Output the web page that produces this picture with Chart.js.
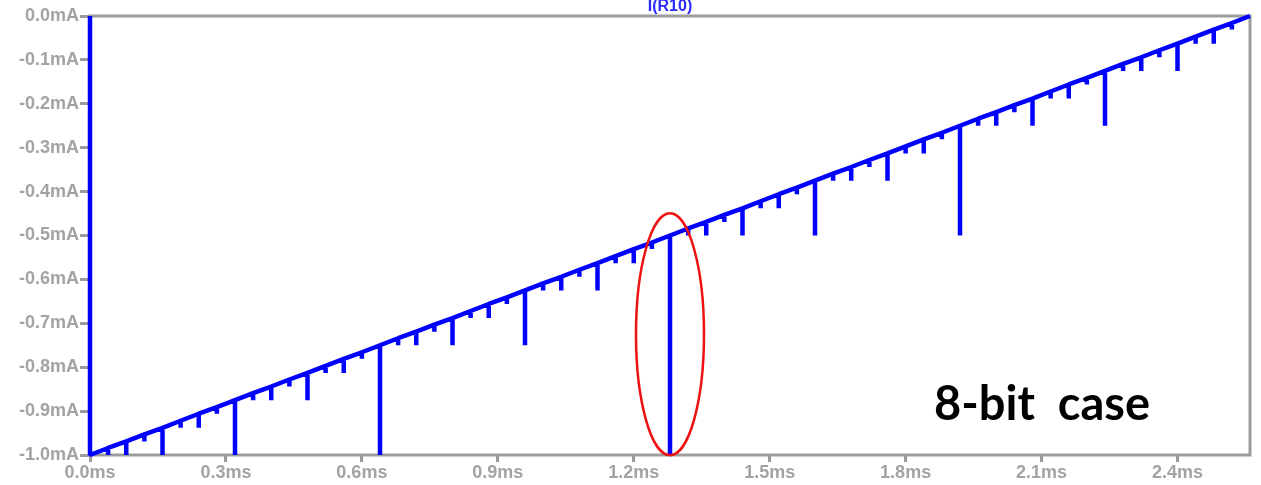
<!DOCTYPE html>
<html>
<head>
<meta charset="utf-8">
<script src="https://cdn.jsdelivr.net/npm/chart.js@4"></script>
<style>
  html, body { margin: 0; padding: 0; background: #fff; }
  #wrap { width: 1261px; height: 485px; }
</style>
</head>
<body>
<div id="wrap"><canvas id="cur" width="1261" height="485"></canvas></div>
<script>
// spike times (ms), ramp level at each spike and spike bottom (mA)
const glitchTimes = [0.04, 0.08, 0.12, 0.16, 0.20, 0.24, 0.28, 0.32, 0.36, 0.40, 0.44, 0.48, 0.52, 0.56, 0.60, 0.64,
  0.68, 0.72, 0.76, 0.80, 0.84, 0.88, 0.92, 0.96, 1.00, 1.04, 1.08, 1.12, 1.16, 1.20, 1.24, 1.28,
  1.32, 1.36, 1.40, 1.44, 1.48, 1.52, 1.56, 1.60, 1.64, 1.68, 1.72, 1.76, 1.80, 1.84, 1.88, 1.92,
  1.96, 2.00, 2.04, 2.08, 2.12, 2.16, 2.20, 2.24, 2.28, 2.32, 2.36, 2.40, 2.44, 2.48, 2.52];
const rampLevel = [-0.984, -0.969, -0.953, -0.938, -0.922, -0.906, -0.891, -0.875, -0.859, -0.844, -0.828, -0.813, -0.797, -0.781, -0.766, -0.750,
  -0.734, -0.719, -0.703, -0.688, -0.672, -0.656, -0.641, -0.625, -0.609, -0.594, -0.578, -0.563, -0.547, -0.531, -0.516, -0.500,
  -0.484, -0.469, -0.453, -0.438, -0.422, -0.406, -0.391, -0.375, -0.359, -0.344, -0.328, -0.313, -0.297, -0.281, -0.266, -0.250,
  -0.234, -0.219, -0.203, -0.188, -0.172, -0.156, -0.141, -0.125, -0.109, -0.094, -0.078, -0.063, -0.047, -0.031, -0.016];
const glitchLow = [-1.000, -1.000, -0.969, -1.000, -0.938, -0.938, -0.906, -1.000, -0.875, -0.875, -0.844, -0.875, -0.813, -0.813, -0.781, -1.000,
  -0.750, -0.750, -0.719, -0.750, -0.688, -0.688, -0.656, -0.750, -0.625, -0.625, -0.594, -0.625, -0.563, -0.563, -0.531, -1.000,
  -0.500, -0.500, -0.469, -0.500, -0.438, -0.438, -0.406, -0.500, -0.375, -0.375, -0.344, -0.375, -0.313, -0.313, -0.281, -0.500,
  -0.250, -0.250, -0.219, -0.250, -0.188, -0.188, -0.156, -0.250, -0.125, -0.125, -0.094, -0.125, -0.063, -0.063, -0.031];
const startPoints = [{ x: 0, y: 0.0 }, { x: 0, y: -1.0 }];
const endPoint = { x: 2.56, y: 0.0 };

const xTicks = [0.0, 0.3, 0.6, 0.9, 1.2, 1.5, 1.8, 2.1, 2.4];
const yTicks = [0.0, -0.1, -0.2, -0.3, -0.4, -0.5, -0.6, -0.7, -0.8, -0.9, -1.0];

const points = [...startPoints];
glitchTimes.forEach((t, i) => {
  points.push({ x: t, y: rampLevel[i] });
  points.push({ x: t, y: glitchLow[i] });
  points.push({ x: t, y: rampLevel[i] });
});
points.push(endPoint);

const FRAME = '#9a9d9b';
const LABEL = '#a3a3a3';

// frame, title, ellipse and the annotation text
const decor = {
  id: 'decor',
  beforeDatasetsDraw(chart) {
    const { ctx, chartArea: a } = chart;
    ctx.save();
    ctx.strokeStyle = FRAME;
    ctx.lineWidth = 3;
    ctx.strokeRect(a.left, a.top, a.right - a.left, a.bottom - a.top);
    ctx.restore();
  },
  afterDatasetsDraw(chart) {
    const { ctx, chartArea: a, scales } = chart;
    ctx.save();
    ctx.fillStyle = '#2a2aff';
    ctx.font = 'bold 16px "Liberation Sans", Arial, sans-serif';
    ctx.textAlign = 'center';
    ctx.textBaseline = 'alphabetic';
    ctx.fillText('I(R10)', (a.left + a.right) / 2, a.top - 5);

    // red ellipse around the 1.28ms glitch
    const cx = scales.x.getPixelForValue(1.28);
    const cy = scales.y.getPixelForValue(-0.725);
    ctx.strokeStyle = '#ee1111';
    ctx.lineWidth = 2.5;
    ctx.beginPath();
    ctx.ellipse(cx, cy, 34, 121, 0, 0, Math.PI * 2);
    ctx.stroke();

    // annotation, squeezed to the width it has in the picture
    const label = '8-bit  case';
    ctx.fillStyle = '#000';
    ctx.font = 'bold 48px Lato, "Open Sans", sans-serif';
    ctx.textAlign = 'left';
    const w = ctx.measureText(label).width;
    ctx.translate(934, 420);
    ctx.scale(Math.min(1, 216 / w), 1);
    ctx.fillText(label, 0, 0);
    ctx.restore();
  }
};

new Chart(document.getElementById('cur'), {
  type: 'line',
  data: {
    datasets: [{
      label: 'I(R10)',
      data: points,
      borderColor: '#0000ff',
      borderWidth: 4.5,
      pointRadius: 0,
      tension: 0,
      clip: 6,
      borderJoinStyle: 'bevel',
      borderCapStyle: 'butt'
    }]
  },
  options: {
    responsive: false,
    animation: false,
    parsing: false,
    layout: { padding: { top: 16, right: 11, left: 0, bottom: 0 } },
    plugins: {
      legend: { display: false },
      title: { display: false },
      tooltip: { enabled: false }
    },
    scales: {
      x: {
        type: 'linear',
        min: 0,
        max: 2.56,
        afterBuildTicks: axis => { axis.ticks = xTicks.map(v => ({ value: v })); },
        afterFit: axis => { axis.height = 30; },
        border: { display: false },
        grid: { drawOnChartArea: false, drawTicks: true, tickLength: 7, tickWidth: 3, color: FRAME },
        ticks: {
          color: LABEL,
          font: { family: '"Liberation Sans", Arial, sans-serif', size: 18, weight: 'bold' },
          padding: 0,
          maxRotation: 0,
          callback: v => v.toFixed(1) + 'ms'
        }
      },
      y: {
        type: 'linear',
        min: -1,
        max: 0,
        afterBuildTicks: axis => { axis.ticks = yTicks.map(v => ({ value: v })); },
        afterFit: axis => { axis.width = 90; },
        border: { display: false },
        grid: { drawOnChartArea: false, drawTicks: true, tickLength: 10, tickWidth: 3, color: FRAME },
        ticks: {
          color: LABEL,
          font: { family: '"Liberation Sans", Arial, sans-serif', size: 18, weight: 'bold' },
          padding: 1,
          callback: v => (Math.abs(v) < 1e-9 ? '0.0' : v.toFixed(1)) + 'mA'
        }
      }
    }
  },
  plugins: [decor]
});
</script>
</body>
</html>
